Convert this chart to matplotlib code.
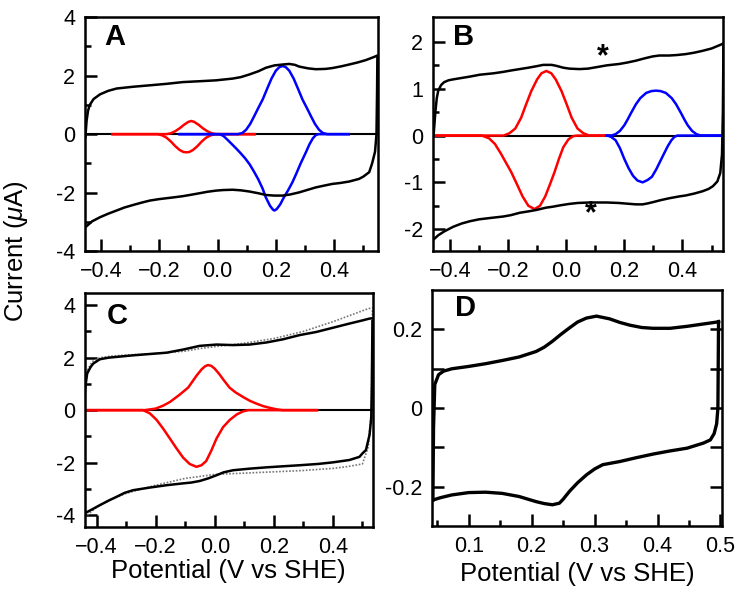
import matplotlib
matplotlib.use("Agg")
import matplotlib.pyplot as plt
from matplotlib.ticker import FixedLocator, FixedFormatter

plt.rcParams.update({
    "font.family": ["Liberation Sans", "DejaVu Sans"],
    "mathtext.fontset": "custom",
    "mathtext.it": "Liberation Sans:italic",
    "mathtext.rm": "Liberation Sans",
    "axes.linewidth": 1.8,
})

# ---- panel A: CV (black) and deconvoluted peaks (red, blue) ----
a_up_x = [-0.453, -0.449, -0.444, -0.438, -0.425, -0.403, -0.375, -0.346, -0.29, -0.232,
          -0.175, -0.119, -0.06, -0.005, 0.052, 0.08, 0.109, 0.14, 0.166, 0.195, 0.223,
          0.246, 0.265, 0.28, 0.31, 0.337, 0.37, 0.394, 0.425, 0.451, 0.48, 0.508, 0.537, 0.546]
a_up_y = [-0.1, 0.45, 0.8, 1.0, 1.2, 1.36, 1.48, 1.56, 1.62, 1.67,
          1.72, 1.78, 1.81, 1.84, 1.90, 1.95, 2.04, 2.15, 2.27, 2.35, 2.38,
          2.40, 2.37, 2.31, 2.25, 2.22, 2.23, 2.26, 2.32, 2.38, 2.45, 2.53, 2.64, 2.68]
a_dn_x = [0.548, 0.547, 0.545, 0.54, 0.53, 0.52, 0.5, 0.485, 0.451, 0.42, 0.394, 0.365,
          0.337, 0.31, 0.28, 0.25, 0.223, 0.195, 0.166, 0.14, 0.109, 0.08, 0.052, 0.02,
          -0.005, -0.035, -0.062, -0.09, -0.119, -0.15, -0.175, -0.2, -0.232, -0.26,
          -0.289, -0.32, -0.346, -0.375, -0.403, -0.43, -0.453]
a_dn_y = [2.6, 1.5, 0.0, -0.6, -1.0, -1.3, -1.45, -1.53, -1.62, -1.67, -1.70, -1.76,
          -1.82, -1.9, -1.99, -2.06, -2.1, -2.1, -2.08, -2.02, -1.96, -1.92, -1.90, -1.91,
          -1.93, -1.97, -2.02, -2.07, -2.12, -2.16, -2.19, -2.22, -2.27, -2.34,
          -2.42, -2.51, -2.61, -2.72, -2.84, -2.98, -3.18]
a_red_ox_x = [-0.36, -0.175, -0.16, -0.145, -0.13, -0.115, -0.1, -0.09, -0.08, -0.065,
              -0.05, -0.035, -0.02, -0.005, 0.127]
a_red_ox_y = [0.0, 0.0, 0.03, 0.1, 0.2, 0.32, 0.42, 0.45, 0.42, 0.32,
              0.2, 0.1, 0.03, 0.0, 0.0]
a_red_rd_x = [-0.36, -0.205, -0.19, -0.175, -0.16, -0.145, -0.13, -0.117, -0.107, -0.097,
              -0.084, -0.069, -0.054, -0.039, -0.024, -0.008, 0.127]
a_red_rd_y = [0.0, 0.0, -0.04, -0.12, -0.25, -0.41, -0.54, -0.61, -0.62, -0.61,
              -0.54, -0.41, -0.25, -0.12, -0.04, 0.0, 0.0]
a_blue_ox_x = [-0.13, 0.07, 0.085, 0.098, 0.112, 0.126, 0.14, 0.155, 0.17, 0.185, 0.2, 0.212,
               0.223, 0.234, 0.246, 0.261, 0.276, 0.291, 0.306, 0.32, 0.334, 0.348, 0.361,
               0.376, 0.45]
a_blue_ox_y = [0.0, 0.0, 0.04, 0.15, 0.35, 0.62, 0.9, 1.19, 1.55, 1.9, 2.17, 2.29,
               2.33, 2.29, 2.17, 1.9, 1.55, 1.19, 0.9, 0.62, 0.35, 0.15, 0.04,
               0.0, 0.0]
a_blue_rd_x = [-0.13, 0.007, 0.02, 0.035, 0.05, 0.065, 0.08, 0.095, 0.11, 0.125, 0.14, 0.155,
               0.165, 0.18, 0.19, 0.195, 0.203, 0.215, 0.228, 0.243, 0.257, 0.27, 0.285,
               0.303, 0.315, 0.327, 0.337, 0.347, 0.45]
a_blue_rd_y = [0.0, 0.0, -0.06, -0.2, -0.35, -0.5, -0.66, -0.83, -1.03, -1.28, -1.55, -1.87,
               -2.15, -2.45, -2.58, -2.61, -2.56, -2.4, -2.15, -1.9, -1.64, -1.35, -1.0,
               -0.62, -0.35, -0.14, -0.03, 0.0, 0.0]

# ---- panel B ----
b_up_x = [-0.456, -0.45, -0.445, -0.44, -0.43, -0.42, -0.405, -0.389, -0.36, -0.331, -0.297,
          -0.25, -0.217, -0.19, -0.16, -0.13, -0.103, -0.079, -0.05, -0.034, -0.01, 0.011,
          0.046, 0.075, 0.103, 0.14, 0.183, 0.21, 0.24, 0.27, 0.297, 0.32, 0.354, 0.38,
          0.411, 0.44, 0.469, 0.5, 0.531, 0.538]
b_up_y = [0.0, 0.5, 0.8, 0.96, 1.08, 1.14, 1.18, 1.2, 1.23, 1.26, 1.3,
          1.33, 1.36, 1.39, 1.42, 1.45, 1.48, 1.51, 1.51, 1.49, 1.45, 1.43,
          1.42, 1.43, 1.46, 1.5, 1.53, 1.56, 1.6, 1.65, 1.69, 1.71, 1.71, 1.72,
          1.74, 1.77, 1.81, 1.86, 1.94, 1.96]
b_dn_x = [0.541, 0.539, 0.536, 0.53, 0.52, 0.505, 0.49, 0.469, 0.44, 0.411, 0.389, 0.354,
          0.325, 0.3, 0.28, 0.263, 0.24, 0.22, 0.18, 0.14, 0.103, 0.08, 0.04, 0.011, -0.02,
          -0.046, -0.069, -0.103, -0.13, -0.16, -0.19, -0.217, -0.26, -0.3, -0.331, -0.36,
          -0.389, -0.42, -0.44, -0.456]
b_dn_y = [1.9, 0.5, -0.4, -0.8, -0.98, -1.08, -1.14, -1.19, -1.24, -1.28, -1.3, -1.34,
          -1.38, -1.42, -1.45, -1.47, -1.47, -1.46, -1.44, -1.43, -1.43, -1.43, -1.44, -1.46, -1.49,
          -1.52, -1.54, -1.59, -1.62, -1.65, -1.7, -1.73, -1.76, -1.79, -1.83, -1.88,
          -1.95, -2.05, -2.13, -2.22]
b_red_ox_x = [-0.45, -0.215, -0.195, -0.175, -0.155, -0.137, -0.12, -0.1, -0.085, -0.068,
              -0.051, -0.036, -0.016, 0.001, 0.019, 0.039, 0.059, 0.079, 0.15]
b_red_ox_y = [0.0, 0.0, 0.05, 0.15, 0.38, 0.68, 0.95, 1.2, 1.33, 1.38,
              1.33, 1.2, 0.95, 0.68, 0.38, 0.15, 0.05, 0.0, 0.0]
b_red_rd_x = [-0.45, -0.29, -0.265, -0.245, -0.225, -0.207, -0.189, -0.17, -0.15, -0.13,
              -0.109, -0.09, -0.072, -0.055, -0.04, -0.025, -0.01, 0.008, 0.025, 0.04, 0.15]
b_red_rd_y = [0.0, 0.0, -0.06, -0.18, -0.38, -0.58, -0.78, -1.03, -1.3, -1.5,
              -1.57, -1.5, -1.3, -1.03, -0.78, -0.5, -0.25, -0.08, -0.01, 0.0, 0.0]
b_blue_ox_x = [0.14, 0.155, 0.17, 0.185, 0.2, 0.212, 0.223, 0.24, 0.255, 0.275, 0.293,
               0.309, 0.325, 0.343, 0.363, 0.378, 0.395, 0.406, 0.418, 0.433, 0.448,
               0.463, 0.537]
b_blue_ox_y = [0.0, 0.0, 0.03, 0.1, 0.22, 0.35, 0.48, 0.67, 0.8, 0.91, 0.95,
               0.96, 0.95, 0.91, 0.8, 0.67, 0.48, 0.35, 0.22, 0.1, 0.03,
               0.0, 0.0]
b_blue_rd_x = [0.14, 0.142, 0.155, 0.17, 0.185, 0.2, 0.215, 0.23, 0.245, 0.263, 0.28,
               0.295, 0.31, 0.325, 0.337, 0.35, 0.362, 0.372, 0.382, 0.537]
b_blue_rd_y = [0.0, 0.0, -0.03, -0.1, -0.27, -0.5, -0.7, -0.86, -0.96, -1.0, -0.95,
               -0.88, -0.72, -0.53, -0.38, -0.22, -0.1, -0.03, 0.0, 0.0]
b_star_x = [0.126, 0.086]
b_star_y = [1.68, -1.68]

# ---- panel C: solid CV, dotted control CV, red peaks ----
c_up_x = [-0.442, -0.439, -0.432, -0.42, -0.411, -0.389, -0.36, -0.332, -0.276, -0.22,
          -0.163, -0.107, -0.051, 0.006, 0.062, 0.118, 0.175, 0.231, 0.287, 0.344, 0.4,
          0.456, 0.5, 0.524, 0.532]
c_up_y = [0.0, 0.83, 1.4, 1.65, 1.78, 1.94, 2.0, 2.03, 2.09, 2.14,
          2.19, 2.31, 2.45, 2.5, 2.48, 2.5, 2.58, 2.7, 2.86, 2.98, 3.14,
          3.3, 3.42, 3.49, 3.5]
c_dn_x = [0.534, 0.532, 0.53, 0.524, 0.512, 0.5, 0.49, 0.456, 0.4, 0.35, 0.287, 0.23, 0.175,
          0.118, 0.062, 0.03, 0.006, -0.022, -0.051, -0.08, -0.107, -0.163, -0.22, -0.276,
          -0.305, -0.332, -0.36, -0.389, -0.415, -0.442]
c_dn_y = [3.4, 1.0, -0.3, -0.95, -1.52, -1.65, -1.78, -1.9, -1.99, -2.05, -2.1, -2.14, -2.18,
          -2.23, -2.29, -2.37, -2.48, -2.6, -2.70, -2.76, -2.79, -2.86, -2.95, -3.05,
          -3.15, -3.3, -3.45, -3.62, -3.78, -3.94]
c_dot_up_x = [-0.442, -0.44, -0.43, -0.415, -0.389, -0.35, -0.3, -0.2, -0.1, -0.05, 0.0,
              0.1, 0.2, 0.3, 0.4, 0.46, 0.52, 0.534]
c_dot_up_y = [0.0, 0.9, 1.55, 1.85, 2.0, 2.06, 2.1, 2.16, 2.25, 2.35, 2.42,
              2.55, 2.73, 3.0, 3.37, 3.62, 3.87, 3.9]
c_dot_dn_x = [0.534, 0.53, 0.52, 0.5, 0.45, 0.4, 0.3, 0.2, 0.1, 0.0, -0.1, -0.2, -0.3,
              -0.36, -0.4, -0.442]
c_dot_dn_y = [3.8, 0.0, -1.4, -2.05, -2.15, -2.22, -2.3, -2.35, -2.4, -2.45, -2.6, -2.86, -3.17,
              -3.45, -3.7, -4.1]
c_red_ox_x = [-0.44, -0.237, -0.2, -0.175, -0.152, -0.12, -0.09, -0.062, -0.045, -0.033,
              -0.023, -0.012, 0.0, 0.015, 0.03, 0.05, 0.07, 0.096, 0.12, 0.141, 0.165,
              0.186, 0.21, 0.23, 0.346]
c_red_ox_y = [0.0, 0.0, 0.06, 0.17, 0.31, 0.58, 0.86, 1.31, 1.55, 1.67,
              1.72, 1.69, 1.58, 1.38, 1.15, 0.86, 0.68, 0.5, 0.35, 0.25, 0.15,
              0.09, 0.03, 0.0, 0.0]
c_red_rd_x = [-0.44, -0.243, -0.22, -0.197, -0.175, -0.152, -0.13, -0.107, -0.085, -0.062,
              -0.045, -0.029, -0.012, 0.006, 0.028, 0.051, 0.075, 0.095, 0.113, 0.346]
c_red_rd_y = [0.0, 0.0, -0.12, -0.37, -0.7, -1.08, -1.45, -1.81, -2.05, -2.16,
              -2.1, -1.94, -1.55, -1.08, -0.65, -0.37, -0.16, -0.05, 0.0, 0.0]

# ---- panel D: control CV, small currents ----
d_up_x = [0.043, 0.044, 0.046, 0.052, 0.06, 0.073, 0.1, 0.127, 0.153, 0.18, 0.207, 0.22,
          0.233, 0.246, 0.26, 0.273, 0.287, 0.303, 0.324, 0.34, 0.356, 0.375, 0.393, 0.42,
          0.447, 0.473, 0.495, 0.497]
d_up_y = [-0.234, -0.05, 0.06, 0.085, 0.094, 0.1, 0.106, 0.113, 0.121, 0.13, 0.144, 0.155,
          0.17, 0.187, 0.204, 0.219, 0.229, 0.234, 0.227, 0.218, 0.211, 0.205, 0.203, 0.203,
          0.208, 0.214, 0.219, 0.22]
d_dn_x = [0.497, 0.496, 0.494, 0.49, 0.484, 0.473, 0.447, 0.42, 0.393, 0.367, 0.34, 0.313,
          0.3, 0.287, 0.273, 0.26, 0.25, 0.244, 0.233, 0.22, 0.207, 0.18, 0.153, 0.127, 0.1,
          0.073, 0.055, 0.043]
d_dn_y = [0.22, 0.0, -0.04, -0.065, -0.081, -0.089, -0.102, -0.109, -0.117, -0.126, -0.136,
          -0.144, -0.155, -0.17, -0.19, -0.212, -0.232, -0.242, -0.246, -0.243, -0.238, -0.225,
          -0.217, -0.214, -0.215, -0.221, -0.228, -0.234]

RED = "#ff0000"
BLUE = "#0000ff"
LW = 1.8


def style_axis(ax, xlim, ylim, xmaj, xlab, xmin, ymaj, ylab, ymin, right=False):
    ax.set_xlim(*xlim)
    ax.set_ylim(*ylim)
    ax.xaxis.set_major_locator(FixedLocator(xmaj))
    ax.xaxis.set_major_formatter(FixedFormatter(xlab))
    ax.xaxis.set_minor_locator(FixedLocator(xmin))
    ax.yaxis.set_major_locator(FixedLocator(ymaj))
    ax.yaxis.set_major_formatter(FixedFormatter(ylab))
    ax.yaxis.set_minor_locator(FixedLocator(ymin))
    ax.tick_params(which="both", direction="in", width=1.8, labelsize=15.5,
                   top=False, right=right)
    ax.tick_params(which="major", length=8.5, pad=7)
    ax.tick_params(which="minor", length=4.5)


def panel_letter(ax, letter, x, y):
    ax.text(x, y, letter, transform=ax.transAxes, fontsize=21, fontweight="bold",
            ha="left", va="top")


fig = plt.figure(figsize=(7.44, 5.91), dpi=100)

xt = [-0.4, -0.2, 0.0, 0.2, 0.4]
xtl = ["\u22120.4", "\u22120.2", "0.0", "0.2", "0.4"]
xtm = [-0.3, -0.1, 0.1, 0.3, 0.5]

# A
ax = fig.add_axes([0.114, 0.575, 0.394, 0.396])
ax.axhline(0, color="black", lw=1.5)
ax.plot(a_red_ox_x, a_red_ox_y, color=RED, lw=LW)
ax.plot(a_red_rd_x, a_red_rd_y, color=RED, lw=LW)
ax.plot(a_blue_ox_x, a_blue_ox_y, color=BLUE, lw=LW)
ax.plot(a_blue_rd_x, a_blue_rd_y, color=BLUE, lw=LW)
ax.plot(a_up_x, a_up_y, color="black", lw=LW)
ax.plot(a_dn_x, a_dn_y, color="black", lw=LW)
style_axis(ax, (-0.455, 0.55), (-4, 4), xt, xtl, xtm,
           [-4, -2, 0, 2, 4], ["-4", "-2", "0", "2", "4"], [-3, -1, 1, 3])
panel_letter(ax, "A", 0.065, 0.975)

# B
ax = fig.add_axes([0.582, 0.575, 0.39, 0.396])
ax.axhline(0, color="black", lw=1.5)
ax.plot(b_red_ox_x, b_red_ox_y, color=RED, lw=LW)
ax.plot(b_red_rd_x, b_red_rd_y, color=RED, lw=LW)
ax.plot(b_blue_ox_x, b_blue_ox_y, color=BLUE, lw=LW)
ax.plot(b_blue_rd_x, b_blue_rd_y, color=BLUE, lw=LW)
ax.plot(b_up_x, b_up_y, color="black", lw=LW)
ax.plot(b_dn_x, b_dn_y, color="black", lw=LW)
for sx, sy in zip(b_star_x, b_star_y):
    ax.text(sx, sy, "*", fontsize=22, fontweight="bold", ha="center", va="center")
style_axis(ax, (-0.458, 0.54), (-2.47, 2.53), xt, xtl, xtm,
           [-2, -1, 0, 1, 2], ["-2", "-1", "0", "1", "2"], [-1.5, -0.5, 0.5, 1.5])
panel_letter(ax, "B", 0.07, 0.975)

# C
ax = fig.add_axes([0.114, 0.108, 0.387, 0.396])
ax.axhline(0, color="black", lw=1.5)
ax.plot(c_dot_up_x, c_dot_up_y, color="#777777", lw=1.2, ls=(0, (1, 1)))
ax.plot(c_dot_dn_x, c_dot_dn_y, color="#777777", lw=1.2, ls=(0, (1, 1)))
ax.plot(c_red_ox_x, c_red_ox_y, color=RED, lw=LW)
ax.plot(c_red_rd_x, c_red_rd_y, color=RED, lw=LW)
ax.plot(c_up_x, c_up_y, color="black", lw=LW)
ax.plot(c_dn_x, c_dn_y, color="black", lw=LW)
style_axis(ax, (-0.44, 0.535), (-4.46, 4.46), xt, xtl, xtm,
           [-4, -2, 0, 2, 4], ["-4", "-2", "0", "2", "4"], [-3, -1, 1, 3])
ax.set_xlabel("Potential (V vs SHE)", fontsize=18.5, labelpad=1)
panel_letter(ax, "C", 0.075, 0.96)

# D
ax = fig.add_axes([0.581, 0.110, 0.389, 0.399])
ax.plot(d_up_x, d_up_y, color="black", lw=2.4)
ax.plot(d_dn_x, d_dn_y, color="black", lw=2.4)
style_axis(ax, (0.042, 0.502), (-0.3, 0.3),
           [0.1, 0.2, 0.3, 0.4, 0.5], ["0.1", "0.2", "0.3", "0.4", "0.5"],
           [0.05, 0.15, 0.25, 0.35, 0.45],
           [-0.2, 0, 0.2], ["-0.2", "0", "0.2"], [-0.1, 0.1], right=True)
ax.tick_params(axis="y", which="minor", length=8.5)
ax.set_xlabel("Potential (V vs SHE)", fontsize=18.5, labelpad=4)
panel_letter(ax, "D", 0.08, 0.985)

fig.text(0.022, 0.575, "Current ($\\mu$A)", rotation=90, fontsize=18.5,
         ha="center", va="center")

fig.savefig("out.png", dpi=100)
